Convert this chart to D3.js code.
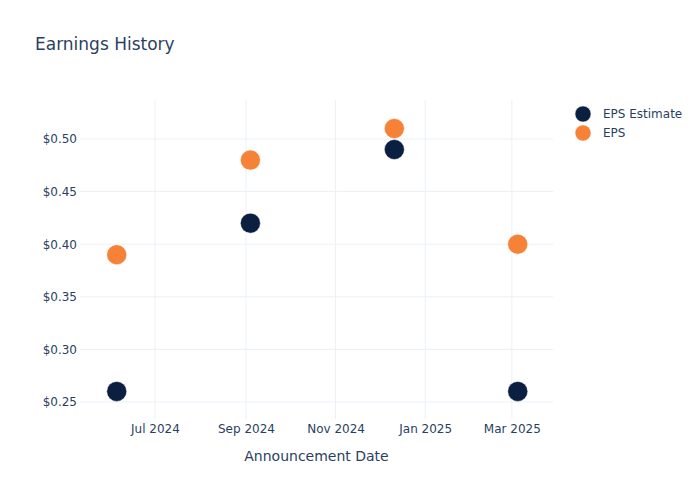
<!DOCTYPE html>
<html>
<head>
<meta charset="utf-8">
<script src="https://cdn.jsdelivr.net/npm/d3@7"></script>
<style>
  body { margin: 0; background: #fff; }
  svg { font-family: "DejaVu Sans", sans-serif; }
</style>
</head>
<body>
<div id="chart"></div>
<script>
// data
const dates = ["2024-06-05", "2024-09-04", "2024-12-11", "2025-03-05"];
const epsEstimate = [0.26, 0.42, 0.49, 0.26];
const eps = [0.39, 0.48, 0.51, 0.40];
const yTicks = [0.25, 0.30, 0.35, 0.40, 0.45, 0.50];
const xTicks = ["2024-07-01", "2024-09-01", "2024-11-01", "2025-01-01", "2025-03-01"];
const seriesNames = ["EPS Estimate", "EPS"];
const seriesColors = ["#0b1f41", "#f68237"];

const width = 700, height = 500;
const margin = {top: 100, right: 147, bottom: 81, left: 80};
const plotW = width - margin.left - margin.right;
const plotH = height - margin.top - margin.bottom;
const textColor = "#2a3f5f";
const gridColor = "#ebf0f8";

const parse = d3.timeParse("%Y-%m-%d");

const svg = d3.select("#chart")
    .append("svg")
    .attr("width", width)
    .attr("height", height);

// title
svg.append("text")
    .attr("x", 35)
    .attr("y", 50)
    .style("font-size", "17px")
    .style("fill", textColor)
    .text("Earnings History");

const g = svg.append("g")
    .attr("transform", "translate(" + margin.left + "," + margin.top + ")");

const x = d3.scaleTime()
    .domain([parse("2024-05-11"), parse("2025-03-29")])
    .range([0, plotW]);

const y = d3.scaleLinear()
    .domain([0.2338, 0.5371])
    .range([plotH, 0]);

// grid lines
g.selectAll(".xgrid")
    .data(xTicks)
    .enter()
    .append("line")
    .attr("x1", (d) => x(parse(d)))
    .attr("x2", (d) => x(parse(d)))
    .attr("y1", 0)
    .attr("y2", plotH)
    .style("stroke", gridColor)
    .style("stroke-width", 1);

g.selectAll(".ygrid")
    .data(yTicks)
    .enter()
    .append("line")
    .attr("x1", 0)
    .attr("x2", plotW)
    .attr("y1", (d) => y(d))
    .attr("y2", (d) => y(d))
    .style("stroke", gridColor)
    .style("stroke-width", 1);

// axes (no domain line, no tick marks)
const xAxis = g.append("g")
    .attr("transform", "translate(0," + plotH + ")")
    .call(d3.axisBottom(x)
        .tickValues(xTicks.map(parse))
        .tickFormat(d3.timeFormat("%b %Y"))
        .tickSize(0)
        .tickPadding(5));

const yAxis = g.append("g")
    .call(d3.axisLeft(y)
        .tickValues(yTicks)
        .tickFormat((d) => "$" + d3.format(".2f")(d))
        .tickSize(0)
        .tickPadding(3));

[xAxis, yAxis].forEach((a) => {
    a.select(".domain").remove();
    a.selectAll("text")
        .style("font-size", "12px")
        .style("fill", textColor)
        .style("font-family", "'DejaVu Sans', sans-serif");
});

// axis title
svg.append("text")
    .attr("x", margin.left + plotW / 2)
    .attr("y", 461)
    .attr("text-anchor", "middle")
    .style("font-size", "14px")
    .style("fill", textColor)
    .text("Announcement Date");

// markers
const series = [epsEstimate, eps];
series.forEach((vals, si) => {
    g.selectAll(".pt" + si)
        .data(vals)
        .enter()
        .append("circle")
        .attr("cx", (d, i) => x(parse(dates[i])))
        .attr("cy", (d) => y(d))
        .attr("r", 10)
        .style("fill", seriesColors[si])
        .style("stroke", "#fff")
        .style("stroke-width", 0.5);
});

// legend
const legend = svg.append("g")
    .attr("transform", "translate(583,114)");

const item = legend.selectAll(".item")
    .data(seriesNames)
    .enter()
    .append("g")
    .attr("transform", (d, i) => "translate(0," + i * 19 + ")");

item.append("circle")
    .attr("r", 8)
    .style("fill", (d, i) => seriesColors[i])
    .style("stroke", "#fff")
    .style("stroke-width", 0.5);

item.append("text")
    .attr("x", 20)
    .attr("dy", "0.35em")
    .style("font-size", "12px")
    .style("fill", textColor)
    .text((d) => d);
</script>
</body>
</html>
